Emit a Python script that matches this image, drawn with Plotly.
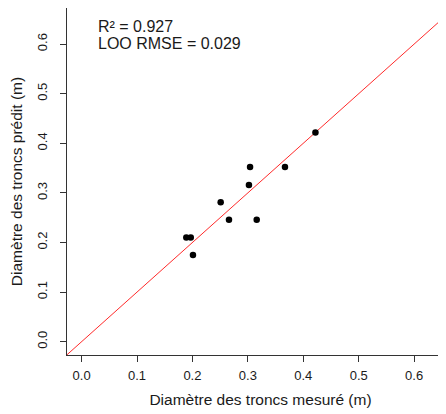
import plotly.graph_objects as go

# Data (measured vs predicted trunk diameter, m)
measured = [0.422, 0.304, 0.367, 0.302, 0.251, 0.266, 0.316, 0.189, 0.197, 0.201]
predicted = [0.422, 0.352, 0.352, 0.316, 0.281, 0.246, 0.246, 0.210, 0.210, 0.175]
tick_vals = [0.0, 0.1, 0.2, 0.3, 0.4, 0.5, 0.6]
tick_text = ["0.0", "0.1", "0.2", "0.3", "0.4", "0.5", "0.6"]
line_ends = [-0.1, 0.8]
r2_text = "R² = 0.927"
rmse_text = "LOO RMSE = 0.029"
x_title = "Diamètre des troncs mesuré (m)"
y_title = "Diamètre des troncs prédit (m)"

FONT = "Liberation Sans, Arial, Helvetica, sans-serif"
TXT = "#1a1a1a"
W, H = 446, 414
ML, MR, MT, MB = 59, 0, 0, 67

fig = go.Figure()
fig.add_trace(go.Scatter(x=line_ends, y=line_ends, mode="lines",
                         line=dict(color="#ff2a2a", width=1), hoverinfo="skip"))
fig.add_trace(go.Scatter(x=measured, y=predicted, mode="markers",
                         marker=dict(color="black", size=6.5)))

axis_common = dict(showgrid=False, zeroline=False, showline=True, linecolor="#333",
                   linewidth=1, ticks="outside", ticklen=6, tickcolor="#333",
                   tickvals=tick_vals, ticktext=tick_text,
                   tickfont=dict(family=FONT, size=13, color=TXT))
fig.update_xaxes(range=[-0.0263, 0.672], mirror=True, ticklabelstandoff=2, **axis_common,
                 title=dict(text=x_title, font=dict(family=FONT, size=15.5, color=TXT), standoff=12))
fig.update_yaxes(range=[-0.0268, 0.6728], mirror=False, tickangle=-90, ticklabelstandoff=8,
                 **axis_common,
                 title=dict(text=y_title, font=dict(family=FONT, size=15.5, color=TXT), standoff=8))

pw = W - ML - MR
ph = H - MT - MB
def px_x(p):
    return (p - ML) / pw
def px_y(p):
    return 1 - (p - MT) / ph

fig.add_annotation(x=px_x(88), y=px_y(18), xref="paper", yref="paper", xanchor="left",
                   yanchor="middle", text=r2_text, showarrow=False,
                   font=dict(family=FONT, size=16, color=TXT))
fig.add_annotation(x=px_x(88), y=px_y(35), xref="paper", yref="paper", xanchor="left",
                   yanchor="middle", text=rmse_text, showarrow=False,
                   font=dict(family=FONT, size=16, color=TXT))

fig.update_layout(width=W, height=H, margin=dict(l=ML, r=MR, t=MT, b=MB, autoexpand=False),
                  plot_bgcolor="white", paper_bgcolor="white", showlegend=False)
fig.write_html("out.html")
